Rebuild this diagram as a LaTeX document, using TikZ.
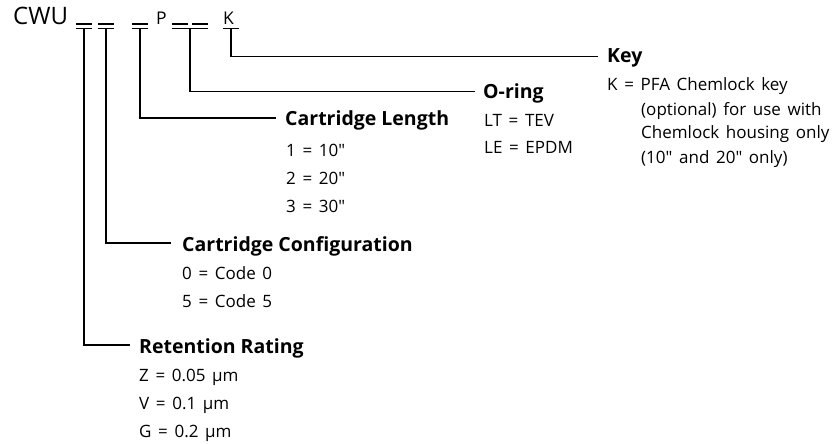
\documentclass[tikz,border=0pt]{standalone}
\usepackage{fontspec}
\setmainfont{Open Sans}
\newfontfamily\valfont[WordSpace=1.5]{Open Sans}
\begin{document}
\begin{tikzpicture}[x=1pt,y=-1pt,
  lbl/.style={anchor=base west, inner sep=0pt, font=\fontsize{19.5}{22}\selectfont\bfseries},
  val/.style={anchor=base west, inner sep=0pt, font=\valfont\fontsize{17}{18}\selectfont},
  code/.style={anchor=base west, inner sep=0pt, font=\fontsize{17.5}{18}\selectfont},
  big/.style={anchor=base west, inner sep=0pt, font=\fontsize{24}{26}\selectfont},
  bar/.style={line width=1.3pt},
  conn/.style={line width=1.5pt}]
\useasboundingbox (0,0) rectangle (833,444);
% code line
\node[big]  (cwu) at (13,25) {CWU};
\node[code] (p)   at (156,25) {P};
\node[code] (k)   at (223,25) {K};
% blank underscores
\foreach \x in {84,106,140,180,200}{
  \draw[bar] (\x-8,24) -- (\x+8,24);
}
% T bars
\coordinate (b1) at (84,28.5);
\coordinate (b2) at (106,28.5);
\coordinate (b3) at (140,28.5);
\coordinate (b4) at (190,28.5);
\coordinate (b5) at (231,28.5);
\draw[bar] ([xshift=-8pt]b1) -- ([xshift=8pt]b1);
\draw[bar] ([xshift=-8pt]b2) -- ([xshift=8pt]b2);
\draw[bar] ([xshift=-8pt]b3) -- ([xshift=8pt]b3);
\draw[bar] ([xshift=-18pt]b4) -- ([xshift=18pt]b4);
\draw[bar] ([xshift=-8pt]b5) -- ([xshift=8pt]b5);
% labels
\node[lbl] (key) at (607,63)  {Key};
\node[lbl] (oring) at (483,98.5) {O-ring};
\node[lbl] (len) at (285,125) {Cartridge Length};
\node[lbl] (conf) at (182,251) {Cartridge Configuration};
\node[lbl] (ret) at (139,353) {Retention Rating};
% connectors
\draw[conn] (b5) |- ([shift={(-9pt,6.5pt)}]key.base west);
\draw[conn] (b4) |- ([shift={(-8pt,7pt)}]oring.base west);
\draw[conn] (b3) |- ([shift={(-9pt,7pt)}]len.base west);
\draw[conn] (b2) |- ([shift={(-11pt,8pt)}]conf.base west);
\draw[conn] (b1) |- ([shift={(-9pt,8pt)}]ret.base west);
% values
\node[val] (k1) at (607,91) {K = PFA Chemlock key};
\node[val] (k2) at (641,115) {(optional) for use with};
\node[val] (k3) at (641,139) {Chemlock housing only};
\node[val] (k4) at (641,163) {(10" and 20" only)};
\node[val] (o1) at (484,126) {LT = TEV};
\node[val] (o2) at (484,153) {LE = EPDM};
\node[val] (l1) at (286,156) {1 = 10"};
\node[val] (l2) at (286,184) {2 = 20"};
\node[val] (l3) at (286,212) {3 = 30"};
\node[val] (c1) at (182,279) {0 = Code 0};
\node[val] (c2) at (182,307) {5 = Code 5};
\node[val] (r1) at (139,381) {Z = 0.05 µm};
\node[val] (r2) at (139,409) {V = 0.1 µm};
\node[val] (r3) at (139,437) {G = 0.2 µm};
\end{tikzpicture}
\end{document}
